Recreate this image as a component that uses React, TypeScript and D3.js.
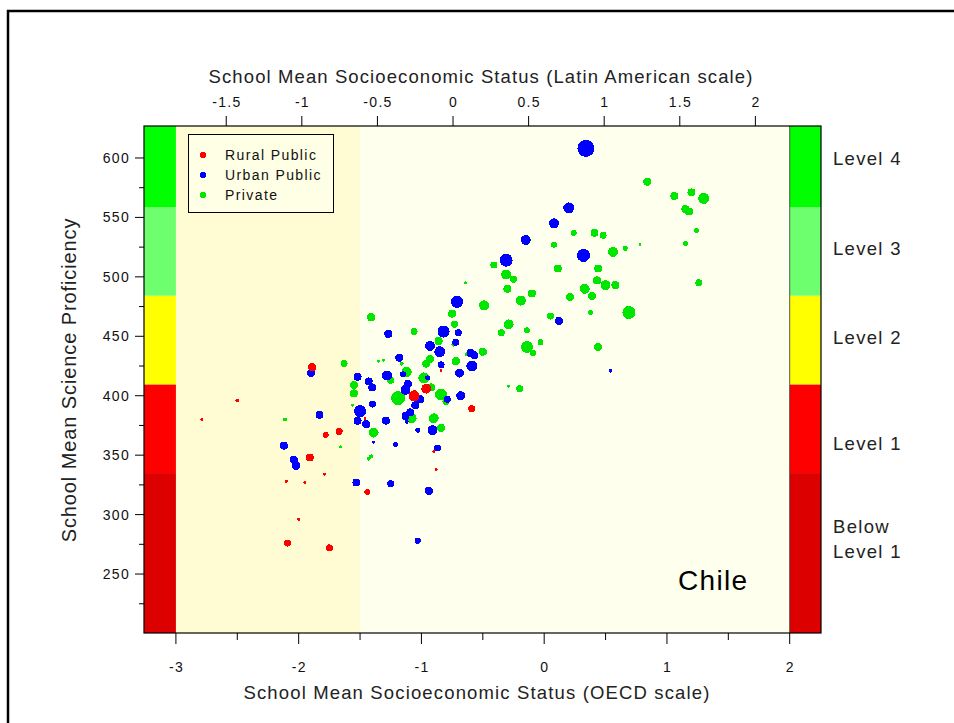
import React from "react";
import * as d3 from "d3";

// School-level results: OECD socioeconomic index, mean science score, marker size (school weight)
const ruralX = [-1.89, -2.5, -2.79, -1.78, -1.67, -1.91, -1.79, -2.1, -1.95, -1.44, -2.0, -2.09, -1.75, -1.46, -0.84, -0.96, -1.06, -0.59, -0.9, -0.88];
const ruralY = [424, 396, 380, 367, 370, 348, 334, 328, 327, 319, 296, 276, 272, 381, 421, 406, 400, 389, 353, 338];
const ruralW = [4, 2, 1.5, 3, 3.5, 4, 1.5, 1.5, 1.5, 3, 1.5, 3.5, 3.5, 1.5, 1.5, 5, 5.5, 3.5, 1.5, 1.5];

const urbanX = [0.34, 0.2, 0.08, -0.15, -0.31, 0.32, 0.12, -0.71, -0.82, -0.7, -0.72, -0.93, -0.85, -0.6, -0.57, 0.54, -1.27, -1.18, -0.84, -0.59, -1.15, -0.69, -1.52, -1.28, -1.43, -1.4, -0.95, -1.11, -1.13, -0.79, -0.68, -1.01, -1.05, -1.5, -1.4, -1.09, -1.13, -1.12, -1.52, -1.29, -1.45, -0.91, -1.03, -1.39, -1.21, -0.87, -1.9, -1.83, -2.12, -2.04, -2.02, -1.53, -1.25, -0.94, -1.03];
const urbanY = [608, 558, 545, 531, 514, 518, 463, 479, 454, 453, 445, 442, 437, 436, 434, 421, 452, 432, 426, 425, 418, 419, 416, 417, 412, 407, 415, 410, 405, 397, 400, 397, 392, 387, 393, 386, 383, 378, 379, 379, 376, 371, 371, 361, 359, 356, 419, 384, 358, 346, 341, 327, 326, 320, 278];
const urbanW = [8.5, 5.5, 5, 5, 6.5, 6.5, 4, 6, 6, 3.5, 3.5, 5, 5.5, 4, 4, 2, 4, 4, 3.5, 5.5, 3, 4.5, 4, 5, 4, 4, 2.5, 4, 5, 3.5, 4.5, 4, 4, 6, 3.5, 4, 4, 2, 4, 4, 4, 5, 2.5, 1.5, 2.5, 3.5, 4, 4, 4, 4, 4, 4, 3.5, 4, 3];

const privateX = [0.84, 1.06, 1.2, 1.3, 1.15, 1.18, 1.24, 1.15, 1.26, 0.78, 0.66, 0.56, 0.24, 0.41, 0.48, 0.08, -0.41, -0.31, -0.25, -0.3, -0.1, -0.19, 0.11, 0.44, 0.43, 0.5, 0.58, 0.33, 0.39, 0.21, 0.69, 0.38, 0.05, -0.64, -0.49, -0.75, -0.29, -0.35, -0.14, -0.03, -0.14, -0.09, 0.44, -0.5, -0.73, -0.86, -0.29, -0.2, -1.41, -1.06, -0.74, -0.63, -0.93, -0.96, -0.72, -1.35, -1.31, -1.16, -1.63, -1.12, -1.25, -1.55, -1.55, -0.98, -0.92, -0.84, -0.8, -1.19, -1.56, -1.08, -0.9, -0.84, -1.39, -1.66, -1.41, -1.43, -2.11];
const privateY = [580, 568, 571, 566, 557, 555, 539, 528, 495, 527, 524, 521, 537, 537, 535, 527, 510, 502, 498, 490, 486, 480, 507, 507, 497, 493, 493, 490, 484, 483, 470, 470, 467, 495, 476, 469, 460, 453, 455, 445, 441, 436, 441, 437, 460, 446, 408, 406, 466, 454, 443, 435, 431, 427, 429, 429, 430, 427, 427, 420, 413, 409, 402, 415, 407, 401, 395, 398, 392, 381, 381, 373, 369, 357, 349, 347, 380];
const privateW = [4, 4, 4, 5.5, 4, 4, 2.5, 2.5, 3.5, 1.5, 2.5, 5, 3, 4, 3.5, 3, 3.5, 5, 3.5, 4, 4, 5, 4, 4, 4, 5, 4, 5, 4, 4, 6.5, 2.5, 3.5, 1.5, 5, 4, 5, 3.5, 3, 3, 6, 3, 4, 4, 3.5, 4, 1.5, 3.5, 4, 3.5, 2, 2, 4, 4, 4, 1.5, 1.5, 2, 3.5, 5, 3.5, 4, 4, 5.5, 4, 6, 3.5, 7, 1.5, 5, 5, 4, 5, 1.5, 2, 2, 2];

// PISA science proficiency cut points
const levelNames = ["Below Level 1", "Level 1", "Level 2", "Level 3", "Level 4"];
const levelCuts = [334.94, 409.54, 484.14, 558.73];
const levelLabelY = [[290, 269], [360], [449], [524], [600]];

const oecdTicks = [-3, -2, -1, 0, 1, 2];
const oecdMinor = [-2.5, -1.5, -0.5, 0.5, 1.5];
const latinTicks = [-1.5, -1, -0.5, 0, 0.5, 1, 1.5, 2];
const scoreTicks = [250, 300, 350, 400, 450, 500, 550, 600];
const scoreMinor = [225, 275, 325, 375, 425, 475, 525, 575];

const seriesNames = ["Rural Public", "Urban Public", "Private"];
const seriesColors = ["#ff0000", "#0000ff", "#00e600"];

const FONT = "'Liberation Sans', Arial, sans-serif";

const fmt = (t: number) => (t < 0 ? `-${Math.abs(t)}` : `${t}`);

export default function App() {
  const left = 144, right = 821, top = 126, bottom = 633;
  const x = d3.scaleLinear().domain([-3.26, 2.255]).range([left, right]);
  const xLatin = d3.scaleLinear().domain([-2.044, 2.434]).range([left, right]);
  const y = d3.scaleLinear().domain([200.4, 626.9]).range([bottom, top]);
  const rScale = d3.scaleLinear().domain([0, 10]).range([0, 10]);

  const x0 = x(-3), x1 = x(2), xSplit = x(-1.5);
  const bandEdges = [200.4, ...levelCuts, 626.9];
  const bandColors = ["#dd0000", "#ff0000", "#ffff00", "#6eff6e", "#00ff00"];

  const series = [
    { xs: privateX, ys: privateY, ws: privateW, color: seriesColors[2] },
    { xs: urbanX, ys: urbanY, ws: urbanW, color: seriesColors[1] },
    { xs: ruralX, ys: ruralY, ws: ruralW, color: seriesColors[0] },
  ];

  const tickStyle = { fontSize: 14, letterSpacing: 1.3, fill: "#111" };
  const titleStyle = { fontSize: 18.5, letterSpacing: 1.1, fill: "#222" };

  return (
    <svg
      width={954}
      height={723}
      style={{ position: "absolute", left: 0, top: 0, background: "#fff" }}
      fontFamily={FONT}
    >
      {/* outer frame */}
      <path d="M8,740 V11 H970" fill="none" stroke="#000" strokeWidth={2.5} />

      {/* plot background */}
      <rect x={x0} y={top} width={xSplit - x0} height={bottom - top} fill="#fffcd4" />
      <rect x={xSplit} y={top} width={x1 - xSplit} height={bottom - top} fill="#ffffee" />

      {/* proficiency bands on both sides */}
      {bandColors.map((c, i) => (
        <g key={i}>
          <rect x={left} y={y(bandEdges[i + 1])} width={x0 - left} height={y(bandEdges[i]) - y(bandEdges[i + 1])} fill={c} />
          <rect x={x1} y={y(bandEdges[i + 1])} width={right - x1} height={y(bandEdges[i]) - y(bandEdges[i + 1])} fill={c} />
        </g>
      ))}
      <line x1={x1} x2={x1} y1={top} y2={bottom} stroke="#333" strokeWidth={0.8} />

      {/* points */}
      {series.map((s, si) => (
        <g key={si} fill={s.color} shapeRendering="crispEdges">
          {s.xs.map((v, i) => (
            <circle key={i} cx={x(v)} cy={y(s.ys[i])} r={rScale(s.ws[i])} />
          ))}
        </g>
      ))}

      <rect x={left} y={top} width={right - left} height={bottom - top} fill="none" stroke="#000" strokeWidth={1.2} />

      {/* legend */}
      <g>
        <rect x={188.5} y={134.5} width={145} height={78} fill="#ffffe6" stroke="#000" strokeWidth={1} />
        {seriesNames.map((n, i) => (
          <g key={n}>
            <circle cx={203} cy={155 + i * 20} r={3} fill={seriesColors[i]} shapeRendering="crispEdges" />
            <text x={225} y={160 + i * 20} fontSize={14} letterSpacing={1.4} fill="#111">{n}</text>
          </g>
        ))}
      </g>

      {/* bottom axis (OECD scale) */}
      <g stroke="#000" strokeWidth={1}>
        {oecdTicks.map((t) => (
          <line key={t} x1={x(t)} x2={x(t)} y1={bottom} y2={bottom + 11} />
        ))}
        {oecdMinor.map((t) => (
          <line key={t} x1={x(t)} x2={x(t)} y1={bottom} y2={bottom + 7} />
        ))}
      </g>
      {oecdTicks.map((t) => (
        <text key={t} x={x(t) + 0.6} y={672} textAnchor="middle" {...tickStyle}>
          {fmt(t)}
        </text>
      ))}
      <text x={477} y={699} textAnchor="middle" {...titleStyle} letterSpacing={1.15}>
        School Mean Socioeconomic Status (OECD scale)
      </text>

      {/* top axis (Latin American scale) */}
      <g stroke="#000" strokeWidth={1}>
        {latinTicks.map((t) => (
          <line key={t} x1={xLatin(t)} x2={xLatin(t)} y1={top} y2={top - 10} />
        ))}
      </g>
      {latinTicks.map((t) => (
        <text key={t} x={xLatin(t) + 0.6} y={107} textAnchor="middle" {...tickStyle}>
          {fmt(t)}
        </text>
      ))}
      <text x={481} y={83} textAnchor="middle" {...titleStyle}>
        School Mean Socioeconomic Status (Latin American scale)
      </text>

      {/* left axis */}
      <g stroke="#000" strokeWidth={1}>
        {scoreTicks.map((t) => (
          <line key={t} x1={left} x2={left - 9} y1={y(t)} y2={y(t)} />
        ))}
        {scoreMinor.map((t) => (
          <line key={t} x1={left} x2={left - 5} y1={y(t)} y2={y(t)} />
        ))}
      </g>
      {scoreTicks.map((t) => (
        <text key={t} x={130} y={y(t) + 5} textAnchor="end" {...tickStyle}>
          {t}
        </text>
      ))}
      <text
        transform={`translate(76,380) rotate(-90)`}
        fontSize={20}
        letterSpacing={0.9}
        textAnchor="middle"
        fill="#222"
      >
        School Mean Science Proficiency
      </text>

      {/* proficiency level labels */}
      {levelNames.map((n, i) => {
        const ys = levelLabelY[i];
        const lines = ys.length === 2 ? ["Below", "Level 1"] : [n];
        return lines.map((ln, j) => (
          <text key={`${i}-${j}`} x={833} y={y(ys[j]) + 7} fontSize={18.5} letterSpacing={1.3} fill="#222">
            {ln}
          </text>
        ));
      })}

      <text x={678} y={590} fontSize={28} letterSpacing={1.3} fill="#000">Chile</text>
    </svg>
  );
}
